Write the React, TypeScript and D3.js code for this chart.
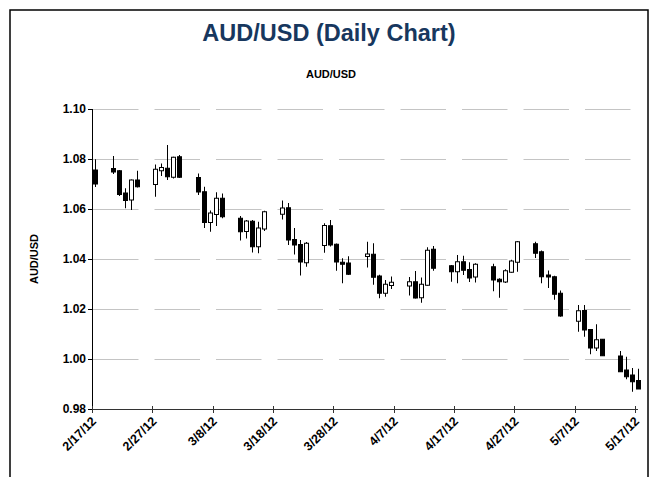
import React, { useRef, useEffect } from "react"
import * as d3 from "d3"

const dates = [
  "2012-02-17", "2012-02-20", "2012-02-21", "2012-02-22", "2012-02-23", "2012-02-24",
  "2012-02-27", "2012-02-28", "2012-02-29", "2012-03-01", "2012-03-02",
  "2012-03-05", "2012-03-06", "2012-03-07", "2012-03-08", "2012-03-09",
  "2012-03-12", "2012-03-13", "2012-03-14", "2012-03-15", "2012-03-16",
  "2012-03-19", "2012-03-20", "2012-03-21", "2012-03-22", "2012-03-23",
  "2012-03-26", "2012-03-27", "2012-03-28", "2012-03-29", "2012-03-30",
  "2012-04-02", "2012-04-03", "2012-04-04", "2012-04-05", "2012-04-06",
  "2012-04-09", "2012-04-10", "2012-04-11", "2012-04-12", "2012-04-13",
  "2012-04-16", "2012-04-17", "2012-04-18", "2012-04-19", "2012-04-20",
  "2012-04-23", "2012-04-24", "2012-04-25", "2012-04-26", "2012-04-27",
  "2012-04-30", "2012-05-01", "2012-05-02", "2012-05-03", "2012-05-04",
  "2012-05-07", "2012-05-08", "2012-05-09", "2012-05-10", "2012-05-11",
  "2012-05-14", "2012-05-15", "2012-05-16", "2012-05-17",
]

const opens = [
  1.0756, 1.0762, 1.0753, 1.0664, 1.0636, 1.0716,
  1.0698, 1.0753, 1.0763, 1.0727, 1.0809,
  1.0726, 1.0669, 1.0546, 1.0578, 1.0643,
  1.0563, 1.0510, 1.0551, 1.0449, 1.0520,
  1.0579, 1.0605, 1.0478, 1.0458, 1.0385,
  1.0454, 1.0533, 1.0459, 1.0387, 1.0384,
  1.0410, 1.0419, 1.0332, 1.0263, 1.0294,
  1.0292, 1.0309, 1.0245, 1.0295, 1.0439,
  1.0373, 1.0349, 1.0389, 1.0358, 1.0328,
  1.0369, 1.0319, 1.0308, 1.0347, 1.0387,
  1.0461, 1.0429, 1.0336, 1.0329, 1.0263,
  1.0151, 1.0194, 1.0118, 1.0044, 1.0079,
  1.0012, 0.9956, 0.9936, 0.9914,
]

const highs = [
  1.0799, 1.0812, 1.0756, 1.0683, 1.0718, 1.0753,
  1.0778, 1.0782, 1.0856, 1.0809, 1.0816,
  1.0742, 1.0689, 1.0594, 1.0667, 1.0662,
  1.0572, 1.0556, 1.0556, 1.0549, 1.0593,
  1.0634, 1.0624, 1.0524, 1.0476, 1.0468,
  1.0543, 1.0556, 1.0462, 1.0403, 1.0411,
  1.0469, 1.0463, 1.0337, 1.0316, 1.0330,
  1.0328, 1.0352, 1.0326, 1.0447, 1.0452,
  1.0376, 1.0416, 1.0413, 1.0387, 1.0383,
  1.0381, 1.0323, 1.0359, 1.0397, 1.0472,
  1.0469, 1.0434, 1.0354, 1.0333, 1.0274,
  1.0216, 1.0216, 1.0120, 1.0139, 1.0080,
  1.0032, 1.0009, 0.9964, 0.9961,
]

const lows = [
  1.0688, 1.0740, 1.0652, 1.0603, 1.0596, 1.0686,
  1.0649, 1.0732, 1.0716, 1.0722, 1.0724,
  1.0656, 1.0524, 1.0509, 1.0532, 1.0563,
  1.0474, 1.0482, 1.0426, 1.0423, 1.0512,
  1.0558, 1.0456, 1.0418, 1.0334, 1.0369,
  1.0425, 1.0450, 1.0353, 1.0303, 1.0336,
  1.0366, 1.0297, 1.0243, 1.0249, 1.0280,
  1.0254, 1.0242, 1.0225, 1.0293, 1.0353,
  1.0309, 1.0303, 1.0336, 1.0308, 1.0306,
  1.0271, 1.0245, 1.0304, 1.0345, 1.0349,
  1.0404, 1.0303, 1.0284, 1.0237, 1.0169,
  1.0109, 1.0089, 1.0019, 1.0032, 1.0013,
  0.9948, 0.9919, 0.9869, 0.9880,
]

const closes = [
  1.0700, 1.0748, 1.0658, 1.0634, 1.0716, 1.0689,
  1.0759, 1.0766, 1.0729, 1.0807, 1.0727,
  1.0668, 1.0546, 1.0584, 1.0643, 1.0569,
  1.0509, 1.0552, 1.0449, 1.0524, 1.0589,
  1.0604, 1.0476, 1.0456, 1.0388, 1.0463,
  1.0534, 1.0456, 1.0388, 1.0379, 1.0339,
  1.0420, 1.0327, 1.0263, 1.0299, 1.0307,
  1.0309, 1.0244, 1.0299, 1.0435, 1.0363,
  1.0349, 1.0389, 1.0355, 1.0324, 1.0379,
  1.0316, 1.0309, 1.0353, 1.0392, 1.0469,
  1.0423, 1.0329, 1.0328, 1.0259, 1.0172,
  1.0193, 1.0116, 1.0044, 1.0077, 1.0013,
  0.9949, 0.9929, 0.9909, 0.9880,
]

const xTickDates = [
  "2012-02-17", "2012-02-27", "2012-03-08", "2012-03-18", "2012-03-28",
  "2012-04-07", "2012-04-17", "2012-04-27", "2012-05-07", "2012-05-17",
]

const yTicks = [0.98, 1.0, 1.02, 1.04, 1.06, 1.08, 1.1]

const title = "AUD/USD (Daily Chart)"
const subtitle = "AUD/USD"
const yAxisLabel = "AUD/USD"

const width = 654
const height = 477
const font = "'Liberation Sans', Arial, sans-serif"

const App: React.FC = () => {
  const svgRef = useRef<SVGSVGElement | null>(null)

  useEffect(() => {
    if (!svgRef.current) return
    const svg = d3.select(svgRef.current)
    svg.selectAll("*").remove()

    const parse = d3.timeParse("%Y-%m-%d")
    const fmt = d3.timeFormat("%-m/%-d/%y")
    const candles = dates.map((d, i) => ({
      date: parse(d) as Date,
      o: opens[i],
      h: highs[i],
      l: lows[i],
      c: closes[i],
    }))

    const plot = { left: 92, right: 635, top: 109, bottom: 409 }

    const x = d3
      .scaleTime()
      .domain([parse(xTickDates[0]) as Date, parse(xTickDates[xTickDates.length - 1]) as Date])
      .range([plot.left, plot.right])
    const y = d3.scaleLinear().domain([0.98, 1.1]).range([plot.bottom, plot.top])

    // outer frame
    svg
      .append("rect")
      .attr("x", 10)
      .attr("y", 10)
      .attr("width", 638)
      .attr("height", 490)
      .attr("fill", "#fff")
      .attr("stroke", "#000")
      .attr("stroke-width", 1.5)

    svg
      .append("text")
      .attr("x", 329)
      .attr("y", 41)
      .attr("text-anchor", "middle")
      .style("font-family", font)
      .style("font-weight", "bold")
      .style("font-size", "23.5px")
      .style("fill", "#17375E")
      .text(title)

    svg
      .append("text")
      .attr("x", 331)
      .attr("y", 78)
      .attr("text-anchor", "middle")
      .style("font-family", font)
      .style("font-weight", "bold")
      .style("font-size", "11px")
      .style("fill", "#000")
      .text(subtitle)

    // gridlines
    svg
      .append("g")
      .selectAll("line")
      .data(yTicks.filter((t) => t > 0.98))
      .join("line")
      .attr("x1", plot.left + 1)
      .attr("x2", plot.right + 3)
      .attr("y1", (d) => Math.round(y(d)) + 0.5)
      .attr("y2", (d) => Math.round(y(d)) + 0.5)
      .attr("stroke", "#c4c4c4")
      .attr("stroke-width", 1)
      .attr("stroke-dasharray", "45.5 16")

    // y axis
    const gy = svg.append("g")
    gy.append("line")
      .attr("x1", plot.left + 0.5)
      .attr("x2", plot.left + 0.5)
      .attr("y1", plot.top)
      .attr("y2", plot.bottom)
      .attr("stroke", "#000")
    gy.selectAll("line.tick")
      .data(yTicks)
      .join("line")
      .attr("class", "tick")
      .attr("x1", plot.left - 4)
      .attr("x2", plot.left)
      .attr("y1", (d) => Math.round(y(d)) + 0.5)
      .attr("y2", (d) => Math.round(y(d)) + 0.5)
      .attr("stroke", "#000")
    gy.selectAll("text")
      .data(yTicks)
      .join("text")
      .attr("x", plot.left - 6)
      .attr("y", (d) => y(d))
      .attr("dy", "0.35em")
      .attr("text-anchor", "end")
      .style("font-family", font)
      .style("font-weight", "bold")
      .style("font-size", "12px")
      .text((d) => d3.format(".2f")(d))

    svg
      .append("text")
      .attr("transform", `translate(38,${(plot.top + plot.bottom) / 2}) rotate(-90)`)
      .attr("text-anchor", "middle")
      .style("font-family", font)
      .style("font-weight", "bold")
      .style("font-size", "11px")
      .text(yAxisLabel)

    // x axis
    const gx = svg.append("g")
    gx.append("line")
      .attr("x1", plot.left)
      .attr("x2", plot.right + 3)
      .attr("y1", plot.bottom + 0.5)
      .attr("y2", plot.bottom + 0.5)
      .attr("stroke", "#333")
    const xTicks = xTickDates.map((d) => parse(d) as Date)
    gx.selectAll("line.tick")
      .data(xTicks)
      .join("line")
      .attr("class", "tick")
      .attr("x1", (d) => Math.round(x(d)) + 0.5)
      .attr("x2", (d) => Math.round(x(d)) + 0.5)
      .attr("y1", plot.bottom - 3)
      .attr("y2", plot.bottom + 4)
      .attr("stroke", "#333")
    gx.selectAll("text")
      .data(xTicks)
      .join("text")
      .attr("transform", (d) => `translate(${x(d) + 5},${plot.bottom + 13}) rotate(-45)`)
      .attr("text-anchor", "end")
      .style("font-family", font)
      .style("font-weight", "bold")
      .style("font-size", "12.5px")
      .text((d) => fmt(d))

    // candles
    const bodyW = 4
    const cx = (d: Date) => Math.round(x(d3.timeHour.offset(d, 12))) + 0.5
    const g = svg.append("g")
    const cg = g.selectAll("g").data(candles).join("g")
    cg.append("line")
      .attr("x1", (d) => cx(d.date))
      .attr("x2", (d) => cx(d.date))
      .attr("y1", (d) => y(d.h))
      .attr("y2", (d) => y(d.l))
      .attr("stroke", "#000")
      .attr("stroke-width", 1)
    cg.append("rect")
      .attr("x", (d) => cx(d.date) - bodyW / 2)
      .attr("width", bodyW)
      .attr("y", (d) => y(Math.max(d.o, d.c)))
      .attr("height", (d) => Math.max(1, Math.abs(y(d.o) - y(d.c))))
      .attr("fill", (d) => (d.c < d.o ? "#000" : "#fff"))
      .attr("stroke", "#000")
      .attr("stroke-width", 1)
  }, [])

  return (
    <svg
      ref={svgRef}
      width={width}
      height={height}
      style={{ position: "absolute", left: 0, top: 0, background: "#fff" }}
    ></svg>
  )
}

export default App
